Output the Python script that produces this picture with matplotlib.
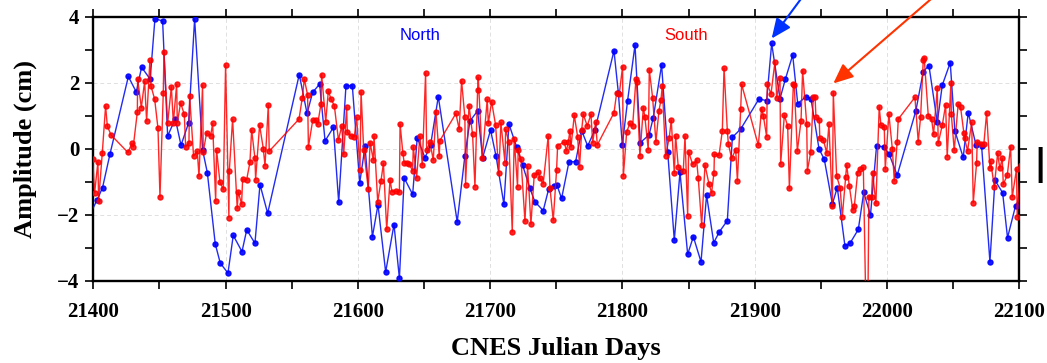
import matplotlib
matplotlib.use("Agg")
import matplotlib.pyplot as plt
from matplotlib.ticker import MultipleLocator

north_day = [21396, 21403, 21407, 21412.6, 21426.5, 21432.5, 21436.5, 21443, 21446.6, 21452.4,
             21456.2, 21462, 21466.3, 21472, 21476.6, 21482.6, 21486.2, 21492.2, 21496, 21501.8,
             21505.8, 21512.4, 21516, 21522.2, 21526, 21531.8, 21555.7, 21561.6, 21565.8, 21571.1,
             21575.2, 21581.5, 21585.5, 21591, 21595.8, 21601.4, 21605.4, 21611, 21615.2, 21621,
             21627.3, 21631.4, 21635, 21641.4, 21644.9, 21650.7, 21655, 21660.8, 21675.1, 21680.9,
             21684.7, 21690.5, 21694.3, 21700.3, 21704.4, 21710.4, 21714.2, 21720, 21724.5, 21730.1,
             21733.8, 21740.1, 21744.2, 21748.2, 21750.5, 21754, 21759.6, 21764.6, 21769.2, 21773.7,
             21779.2, 21793.6, 21796.9, 21799.9, 21803.9, 21809.5, 21813.5, 21820.1, 21823.3, 21829.6,
             21834.2, 21839.2, 21843.5, 21849.3, 21853.6, 21859.4, 21863.6, 21869, 21873.3, 21879.3,
             21883.1, 21889.4, 21903.2, 21909, 21912.8, 21919.1, 21923.1, 21928.7, 21932.5, 21938.8,
             21942.5, 21948.6, 21952.6, 21958.7, 21962.4, 21968.2, 21972, 21978.3, 21982.4, 21987.5,
             21992.1, 21997.7, 22001.7, 22007.7, 22021.8, 22027.4, 22031.7, 22038, 22041.8, 22047.8,
             22051.3, 22057.6, 22061.4, 22067.2, 22071.5, 22077.8, 22081.6, 22087.4, 22091.1, 22097.2,
             22103]
north_amp = [-2.1, -1.54, -1.17, -0.16, 2.19, 1.72, 2.47, 2.11, 3.94, 3.87,
             0.39, 0.91, 0.11, 0.78, 3.93, -0.03, -0.72, -2.88, -3.46, -3.76,
             -2.62, -3.11, -2.45, -2.86, -1.08, -1.95, 2.25, 1.07, 1.71, 1.96,
             0.24, 0.65, -1.62, 1.91, 1.91, -1.03, 0.08, -2.66, -1.69, -3.73,
             -2.29, -3.92, -0.88, -1.38, 0.34, -0.27, 0.12, 1.58, -2.21, -0.21,
             0.84, 1.15, -0.27, 0.57, -0.21, -1.68, 0.75, 0.06, -0.49, -1.2,
             -1.6, -1.87, -1.22, -1.12, -1.1, -1.5, -0.39, -0.39, 0.55, 0.09,
             0.57, 2.97, 1.70, 0.12, 1.46, 3.14, 0.19, 0.42, 0.94, 2.54,
             -0.09, -2.76, -0.71, -3.19, -2.66, -3.42, -1.40, -2.84, -2.51, -2.17,
             0.35, 0.60, 1.51, 1.46, 3.19, 1.52, 2.10, 2.84, 1.37, 1.58,
             1.52, 0.00, -0.32, -1.67, -1.17, -2.94, -2.86, -2.44, -1.32, -2.0,
             0.09, 0.06, -0.17, -0.80, 1.15, 2.34, 2.52, 0.80, 1.93, 2.61,
             0.54, -0.26, 1.10, 0.13, 0.09, -3.42, -0.95, -1.33, -2.69, -1.72,
             -1.3]

south_day = [21399.5, 21401, 21403.5, 21404, 21406.8, 21409.3, 21410.6, 21413.4, 21426.2, 21429.2,
             21430.2, 21433.3, 21433.5, 21436.3, 21438.8, 21440.3, 21442.8, 21443.6, 21446.4, 21448.9,
             21450.4, 21452.9, 21453.4, 21456.2, 21459, 21460.5, 21463, 21463.5, 21466, 21468.8,
             21469.8, 21472.3, 21472.8, 21475.8, 21478.6, 21479.9, 21482.6, 21483.1, 21485.7, 21488.7,
             21490.2, 21492.5, 21493.2, 21495.7, 21498.3, 21500, 21502.5, 21502.8, 21505.3, 21508.8,
             21509.6, 21512.1, 21512.9, 21515.9, 21518.4, 21519.7, 21522.2, 21522.7, 21525.7, 21528.5,
             21529.8, 21532.3, 21533, 21555.5, 21558, 21559.5, 21562, 21562.6, 21565.9, 21568.4,
             21569.6, 21572.1, 21572.6, 21575.7, 21577.7, 21579.7, 21582.2, 21585.3, 21587.8, 21589.3,
             21591.5, 21592, 21594.8, 21597.3, 21599.1, 21601.6, 21602.4, 21604.4, 21607.9, 21609.2,
             21611.7, 21612.2, 21615, 21617.5, 21619.3, 21621.8, 21624.3, 21625.8, 21628.8, 21631.4,
             21631.9, 21634, 21635, 21637.3, 21638.9, 21641.4, 21641.9, 21644.4, 21646.9, 21648.7,
             21651.2, 21652, 21654.5, 21657, 21659, 21661.5, 21662, 21674.1, 21676.6, 21678.4,
             21680.9, 21681.4, 21684, 21686.7, 21688.5, 21690.5, 21691, 21694, 21697.8, 21698.6,
             21701.1, 21704.1, 21706.6, 21708.1, 21711.2, 21711.7, 21714.2, 21716.7, 21718.2, 21720.7,
             21721.2, 21723.3, 21726.3, 21728.3, 21730.8, 21733.3, 21736.4, 21737.6, 21740.1, 21743.9,
             21745.2, 21747.7, 21750.2, 21751, 21756, 21757.6, 21759.1, 21760.3, 21761.1, 21763.6,
             21766.1, 21767.6, 21769.2, 21770.4, 21773.4, 21776.2, 21777.5, 21779.7, 21781, 21793.6,
             21795.6, 21797.6, 21800.1, 21800.7, 21803.2, 21805.7, 21807.7, 21810.2, 21810.7, 21813.2,
             21815.8, 21817, 21819.5, 21820.3, 21822.8, 21825.3, 21827.6, 21829.1, 21830.1, 21832.6,
             21835.4, 21836.9, 21839.2, 21840.2, 21842.2, 21846, 21847.3, 21849.3, 21850, 21853.1,
             21856.1, 21857.3, 21859.9, 21862.4, 21865.4, 21867.4, 21869.2, 21869.5, 21873, 21875.5,
             21876.8, 21879.3, 21880.1, 21882.6, 21885.6, 21886.9, 21889.4, 21890.1, 21902.7, 21905.2,
             21906.5, 21909, 21909.5, 21912.3, 21915.3, 21916.6, 21919.1, 21919.6, 21922.4, 21924.9,
             21926.2, 21929.2, 21929.9, 21932.2, 21935, 21936.2, 21939.3, 21939.8, 21942.3, 21944.3,
             21945.6, 21946.3, 21948.8, 21949.2, 21951.9, 21954.4, 21956.1, 21958.7, 21959.4, 21961.9,
             21964.5, 21966.2, 21968.7, 21969.5, 21971.5, 21974.1, 21975.3, 21977.8, 21979.6, 21982.1,
             21985, 21986.3, 21988.3, 21989.1, 21991.6, 21994.1, 21995.4, 21997.9, 21998.7, 22001.4,
             22004, 22005.5, 22007.7, 22008.5, 22021.1, 22023.6, 22025.4, 22027.4, 22028.1, 22031.2,
             22033.7, 22035.2, 22038, 22038.7, 22041.8, 22044.3, 22045.5, 22048.3, 22048.6, 22050.8,
             22053.8, 22055.6, 22058.1, 22058.6, 22060.9, 22064, 22065.2, 22067.7, 22068.2, 22070.7,
             22073.2, 22075.3, 22077.8, 22078.3, 22081.1, 22083.6, 22085.3, 22087.1, 22087.9, 22090.9,
             22093.4, 22094.7, 22097.9, 22098.4, 22101]
south_amp = [-0.3, -1.33, -0.39, -1.58, -0.12, 1.30, 0.69, 0.42, -0.11, 0.17,
             0.06, 1.12, 2.12, 1.25, 2.04, 0.84, 2.69, 1.90, 1.50, 0.62,
             -1.45, 1.70, 2.94, 0.77, 1.88, 0.79, 1.95, 0.79, 1.39, 1.04,
             0.06, 0.17, 1.61, -0.22, -0.07, -0.83, 1.93, -0.09, 0.49, 0.39,
             0.77, -1.58, -0.04, -1.0, -1.23, 2.54, -2.08, -0.67, 0.90, -1.80,
             -1.30, -1.67, -0.91, -0.94, -0.41, 0.57, -0.29, -0.93, 0.72, 0.01,
             -0.51, 1.33, -0.07, 0.90, 1.55, 2.11, 1.63, 0.06, 0.87, 0.87,
             0.74, 1.36, 2.25, 0.82, 1.76, 1.50, 1.31, 0.27, 0.69, -0.17,
             1.26, 0.50, 0.39, 0.37, 0.95, -0.64, 1.73, -0.02, -1.23, 0.19,
             -0.34, 0.39, -1.60, -0.96, -0.44, -2.44, -0.94, -1.30, -1.28, -1.30,
             0.75, -0.12, -0.42, -0.44, -0.46, -0.67, 0.06, -0.88, 0.39, -0.49,
             2.30, -0.04, 0.20, -0.34, 1.12, -0.22, 0.25, 1.07, 0.59, 2.06,
             0.95, -1.08, 1.31, 0.44, -1.15, 1.78, 2.17, -0.27, 1.50, 0.77,
             1.43, 0.72, -0.74, 0.80, -0.42, 0.59, 0.20, -2.51, 0.29, -1.15,
             -0.04, -0.31, -2.19, -0.52, -2.28, -0.80, -0.71, -0.89, -1.05, 0.39,
             -1.18, -2.16, -0.65, 0.10, 0.21, -0.06, 0.21, 0.55, 0.06, 1.02,
             0.37, -0.54, 0.57, 1.05, 0.69, 1.05, 0.19, 0.80, 0.12, 1.09,
             1.68, 1.66, 2.49, -0.82, 0.52, 0.77, 0.69, 2.11, 2.03, -0.21,
             1.25, 0.95, -0.02, 2.39, 1.55, 0.21, 1.15, 1.48, 1.90, -0.21,
             0.34, 0.87, -0.74, 0.39, -0.54, -0.66, 0.39, -2.03, -0.09, -0.47,
             -0.34, -0.88, -2.31, -0.49, -1.06, -1.33, -0.72, -0.16, -0.2, 0.54,
             2.44, 0.54, 0.14, -0.29, -0.02, -0.97, 1.22, 1.95, 0.11, 1.22,
             1.0, 0.37, 1.96, 1.66, 2.64, 1.55, 2.15, -0.46, 1.02, 0.69,
             -1.20, 1.96, 1.93, -0.07, 0.85, 2.37, 0.75, -0.66, -0.11, 1.58,
             1.58, 0.95, 0.87, 0.32, 0.27, -0.12, 0.75, -1.73, 1.70, -0.82,
             -1.17, -2.05, -0.84, -0.49, -1.12, -1.85, -1.73, -0.72, -0.62, -0.56,
             -7.0, -1.45, -1.45, -0.72, -1.65, 1.27, 0.72, 0.67, -0.61, 1.05,
             0.01, -0.97, 0.22, 0.90, 1.56, 0.22, 0.97, 2.69, 2.76, 1.00,
             0.90, 0.44, 1.85, 0.17, 0.72, 1.33, -0.24, 1.98, 1.05, -0.04,
             1.36, 1.26, 0.49, 0.32, -0.06, 0.80, -1.63, -0.44, 0.22, 0.15,
             0.15, 1.09, -0.59, -0.37, -1.15, -0.14, -0.59, -0.29, -1.07, -0.80,
             0.06, -1.45, -0.61, -2.05, -0.5]

x_ticks = [21400, 21500, 21600, 21700, 21800, 21900, 22000, 22100]
y_ticks = [-4, -2, 0, 2, 4]

serif = ["Liberation Serif", "DejaVu Serif"]

fig = plt.figure(figsize=(10.47, 3.63), dpi=100)
ax = fig.add_axes([93.3 / 1047, 1 - 281 / 363, (1019.3 - 93.3) / 1047, (281 - 16.7) / 363])

ax.plot(north_day, north_amp, color="#0a14f0", lw=1.0, marker="o", ms=3.6,
        mec="#0000ff", mfc="#0000ff", zorder=3, alpha=0.9)
ax.plot(south_day, south_amp, color="#ff0000", lw=1.0, marker="o", ms=3.6,
        mec="#ff0000", mfc="#ff0000", zorder=4, alpha=0.85)

ax.set_xlim(21400, 22100)
ax.set_ylim(-4, 4)
ax.set_xticks(x_ticks)
ax.set_yticks(y_ticks)
ax.xaxis.set_minor_locator(MultipleLocator(50))
ax.yaxis.set_minor_locator(MultipleLocator(1))
ax.grid(True, which="major", color="#e0e0e0", ls=(0, (4, 3)), lw=0.7, zorder=0)

for s in ax.spines.values():
    s.set_linewidth(1.7)
ax.tick_params(which="both", direction="out", length=6, width=1.2,
               top=True, right=True, labeltop=False, labelright=False)
ax.tick_params(axis="x", pad=9)
ax.tick_params(axis="y", pad=4)
for lab in ax.get_xticklabels() + ax.get_yticklabels():
    lab.set_fontfamily(serif)
    lab.set_fontweight("bold")
    lab.set_fontsize(15)

fig.text(25 / 1047, 1 - 149 / 363, "Amplitude (cm)", rotation=90, ha="center", va="center",
         family=serif, weight="bold", fontsize=19)
fig.text(556 / 1047, 1 - 348 / 363, "CNES Julian Days", ha="center", va="center",
         family=serif, weight="bold", fontsize=19)

ax.text(21647, 3.44, "North", color="#0000ff", ha="center", va="center",
        family=["Liberation Sans", "DejaVu Sans"], fontsize=12)
ax.text(21848.4, 3.44, "South", color="#ff0000", ha="center", va="center",
        family=["Liberation Sans", "DejaVu Sans"], fontsize=12)

ax.annotate("", xy=(21912.8, 3.34), xytext=(21945.5, 5.11), annotation_clip=False,
            arrowprops=dict(arrowstyle="-|>,head_length=0.8,head_width=0.35", color="#0033ff",
                            lw=1.5, mutation_scale=15, shrinkA=0, shrinkB=0))
ax.annotate("", xy=(21959.4, 1.98), xytext=(22049.9, 5.11), annotation_clip=False,
            arrowprops=dict(arrowstyle="-|>,head_length=0.8,head_width=0.35", color="#ff3300",
                            lw=1.5, mutation_scale=15, shrinkA=0, shrinkB=0))

fig.text(1047 / 1047, 1 - 165 / 363, "|", ha="right", va="center", family=["DejaVu Sans"],
         weight="bold", fontsize=26)

fig.savefig("out.png", dpi=100)
